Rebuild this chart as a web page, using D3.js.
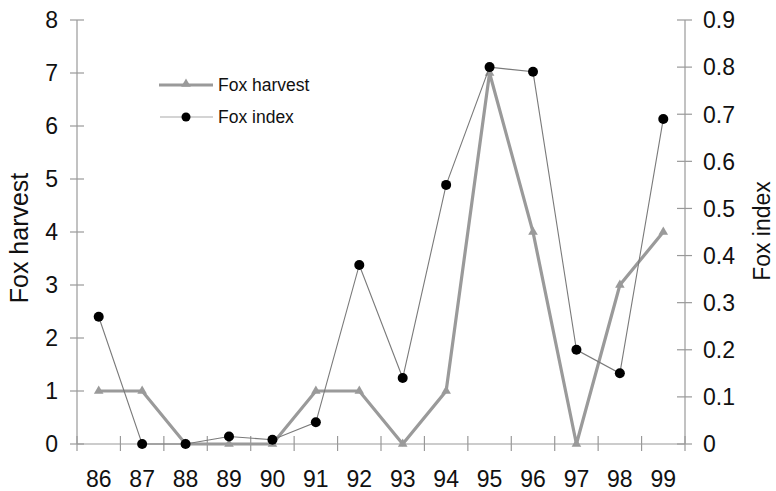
<!DOCTYPE html>
<html><head><meta charset="utf-8">
<script src="https://cdn.jsdelivr.net/npm/d3@7"></script>
<style>body{margin:0;background:#fff}svg{display:block}text{font-family:"Liberation Sans",Arial,sans-serif;fill:#111}</style>
</head><body><svg id="c" width="776" height="491"></svg>
<script>
const years = ["86","87","88","89","90","91","92","93","94","95","96","97","98","99"];
const foxHarvest = [1,1,0,0,0,1,1,0,1,7,4,0,3,4];
const foxIndex = [0.27,0,0,0.016,0.009,0.046,0.38,0.14,0.55,0.80,0.79,0.20,0.15,0.69];
const leftTicks = [0,1,2,3,4,5,6,7,8];
const rightTicks = [0,0.1,0.2,0.3,0.4,0.5,0.6,0.7,0.8,0.9];

const svg = d3.select("#c");
const L = 77, R = 685, T = 20, B = 444;
const x = d3.scaleBand().domain(years).range([L, R]).padding(0);
const yL = d3.scaleLinear().domain([0, 8]).range([B, T]);
const yR = d3.scaleLinear().domain([0, 0.9]).range([B, T]);
const axisCol = "#999";
const FS = 23;

// x axis
const gx = svg.append("g").attr("transform", `translate(0,${B})`);
gx.append("line").attr("x1", L).attr("x2", R).attr("stroke", axisCol).attr("stroke-width", 1.2);
const bounds = years.map(d => x(d)).concat([R]);
gx.selectAll("line.t").data(bounds).enter().append("line")
  .attr("x1", d => d).attr("x2", d => d).attr("y1", -8).attr("y2", 7)
  .attr("stroke", axisCol).attr("stroke-width", 1.2);
gx.selectAll("text").data(years).enter().append("text")
  .attr("x", d => x(d) + x.bandwidth() / 2).attr("y", 43)
  .attr("text-anchor", "middle").attr("font-size", FS).text(d => d);

// left axis
const gl = svg.append("g");
gl.append("line").attr("x1", L).attr("x2", L).attr("y1", T).attr("y2", B).attr("stroke", axisCol).attr("stroke-width", 1.2);
gl.selectAll("line.t").data(leftTicks).enter().append("line")
  .attr("x1", L - 7).attr("x2", L + 7).attr("y1", d => yL(d)).attr("y2", d => yL(d))
  .attr("stroke", axisCol).attr("stroke-width", 1.2);
gl.selectAll("text").data(leftTicks).enter().append("text")
  .attr("x", 58).attr("y", d => yL(d)).attr("dy", "0.36em")
  .attr("text-anchor", "end").attr("font-size", FS).text(d => d);

// right axis
const gr = svg.append("g");
gr.append("line").attr("x1", R).attr("x2", R).attr("y1", T).attr("y2", B).attr("stroke", axisCol).attr("stroke-width", 1.2);
gr.selectAll("line.t").data(rightTicks).enter().append("line")
  .attr("x1", R - 8).attr("x2", R + 7).attr("y1", d => yR(d)).attr("y2", d => yR(d))
  .attr("stroke", axisCol).attr("stroke-width", 1.2);
gr.selectAll("text").data(rightTicks).enter().append("text")
  .attr("x", 703).attr("y", d => yR(d)).attr("dy", "0.36em")
  .attr("text-anchor", "start").attr("font-size", FS).text(d => d3.format("~g")(d));

// axis titles
svg.append("text").attr("transform", `translate(28,238) rotate(-90)`)
  .attr("text-anchor", "middle").attr("font-size", 25).text("Fox harvest");
svg.append("text").attr("transform", `translate(770,231) rotate(-90)`)
  .attr("text-anchor", "middle").attr("font-size", 23).text("Fox index");

const cx = d => x(d) + x.bandwidth() / 2;

// harvest line
const lineL = d3.line().x((d, i) => cx(years[i])).y(d => yL(d));
svg.append("path").datum(foxHarvest).attr("d", lineL).attr("fill", "none")
  .attr("stroke", "#9a9a9a").attr("stroke-width", 3.2).attr("stroke-linejoin", "miter");
const tri = d3.symbol().type(d3.symbolTriangle).size(40);
svg.selectAll("path.tri").data(foxHarvest).enter().append("path")
  .attr("transform", (d, i) => `translate(${cx(years[i])},${yL(d)})`)
  .attr("d", tri).attr("fill", "#9a9a9a");

// index line
const lineR = d3.line().x((d, i) => cx(years[i])).y(d => yR(d));
svg.append("path").datum(foxIndex).attr("d", lineR).attr("fill", "none")
  .attr("stroke", "#7a7a7a").attr("stroke-width", 1.1);
svg.selectAll("circle.pt").data(foxIndex).enter().append("circle")
  .attr("cx", (d, i) => cx(years[i])).attr("cy", d => yR(d)).attr("r", 5).attr("fill", "#000");

// legend
const lg = svg.append("g");
lg.append("line").attr("x1", 159).attr("x2", 213).attr("y1", 85).attr("y2", 85).attr("stroke", "#9a9a9a").attr("stroke-width", 3.2);
lg.append("path").attr("transform", "translate(186,84)").attr("d", tri).attr("fill", "#9a9a9a");
lg.append("text").attr("x", 218).attr("y", 85).attr("dy", "0.36em").attr("font-size", 17.5).text("Fox harvest");
lg.append("line").attr("x1", 160).attr("x2", 213).attr("y1", 117).attr("y2", 117).attr("stroke", "#aaa").attr("stroke-width", 1.1);
lg.append("circle").attr("cx", 186).attr("cy", 117).attr("r", 4.5).attr("fill", "#000");
lg.append("text").attr("x", 218).attr("y", 117).attr("dy", "0.36em").attr("font-size", 17.5).text("Fox index");
</script></body></html>
